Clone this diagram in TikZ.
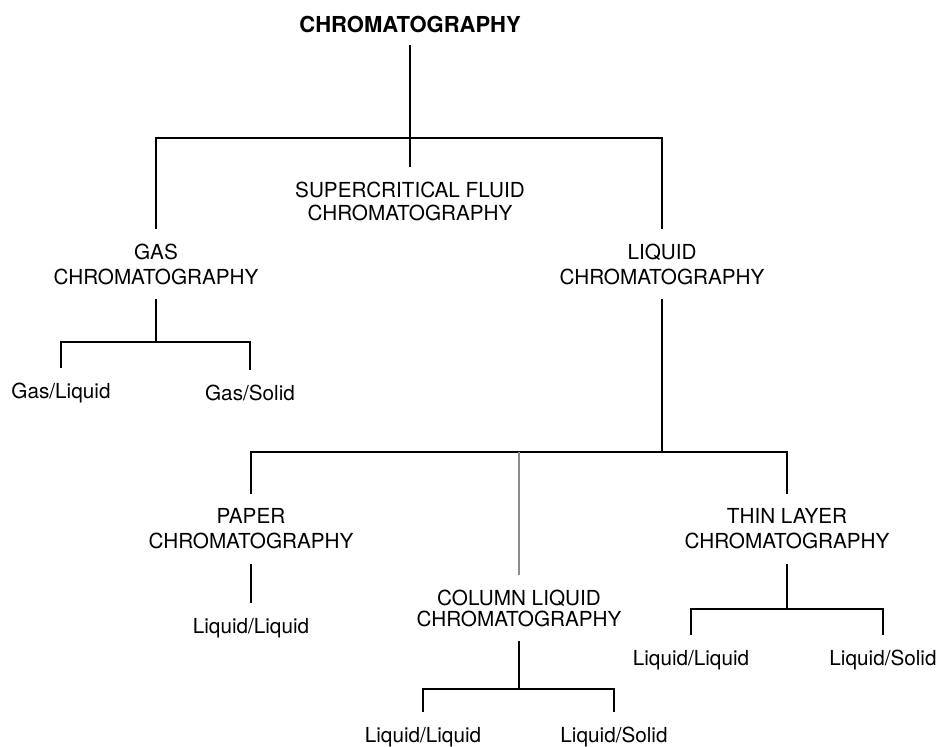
\documentclass[tikz,border=0pt]{standalone}
\usepackage{fontspec}
\setmainfont{TeX Gyre Heros}

\begin{document}
\begin{tikzpicture}[x=0.5pt, y=-0.5pt, line width=0.8pt,
    every node/.style={align=center, inner sep=7pt, font=\fontsize{10.35}{12.5}\selectfont}]
    \useasboundingbox (0,0) rectangle (940,746);
    % top level
    \node (chrom) [inner sep=6pt, font=\fontsize{11}{13}\selectfont\bfseries] at (410,24) {CHROMATOGRAPHY};
    \node (sfc) at (410,201) {SUPERCRITICAL FLUID\\[-1pt]CHROMATOGRAPHY};
    \node (gas) at (156,264) {GAS\\CHROMATOGRAPHY};
    \node (liq) at (662,264) {LIQUID\\CHROMATOGRAPHY};
    \coordinate (b1) at (410,138);
    \draw (chrom.south) -- (b1) -- (sfc.north);
    \draw (gas.north) |- (b1) -| (liq.north);
    % gas chromatography
    \node (gl) at (61,393) {Gas/Liquid};
    \node (gs) at (250,393) {Gas/Solid};
    \coordinate (b2) at (156,342);
    \draw (gas.south) -- (b2);
    \draw (gl.north) |- (b2) -| (gs.north);
    % liquid chromatography
    \node (paper) at (251,529) {PAPER\\CHROMATOGRAPHY};
    \node (column) at (519,608) {COLUMN LIQUID\\[-2pt]CHROMATOGRAPHY};
    \node (thin) at (787,529) {THIN LAYER\\CHROMATOGRAPHY};
    \coordinate (b3) at (662,452);
    \draw (liq.south) -- (b3);
    \draw (paper.north) |- (b3) -| (thin.north);
    \draw[black!45] (b3 -| column.north) -- (column.north);
    % paper
    \node (pll) at (251,628) {Liquid/Liquid};
    \draw (paper.south) -- (pll.north);
    % column
    \node (cll) at (423,737) {Liquid/Liquid};
    \node (cls) at (614,737) {Liquid/Solid};
    \coordinate (b4) at (519,689);
    \draw (column.south) -- (b4);
    \draw (cll.north) |- (b4) -| (cls.north);
    % thin layer
    \node (tll) at (691,660) {Liquid/Liquid};
    \node (tls) at (883,660) {Liquid/Solid};
    \coordinate (b5) at (787,609);
    \draw (thin.south) -- (b5);
    \draw (tll.north) |- (b5) -| (tls.north);
\end{tikzpicture}
\end{document}
